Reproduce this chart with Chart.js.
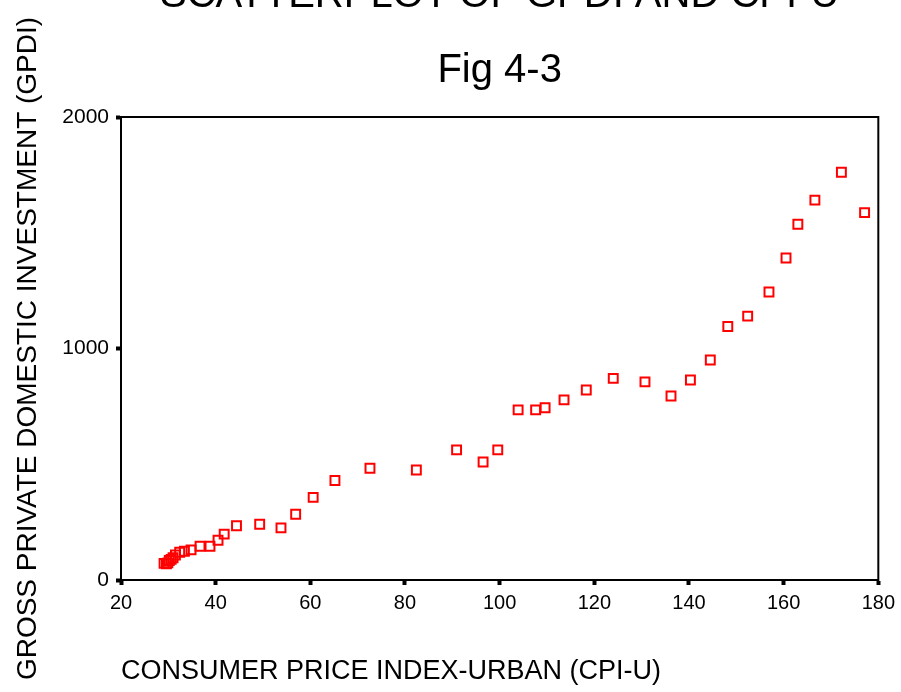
<!DOCTYPE html>
<html>
<head>
<meta charset="utf-8">
<script src="https://cdn.jsdelivr.net/npm/chart.js@4"></script>
<style>
  html, body { margin: 0; padding: 0; background: #fff; overflow: hidden; }
  #wrap { position: absolute; left: 0; top: -42px; width: 901px; height: 734px; }
</style>
</head>
<body>
<div id="wrap"><canvas id="chart"></canvas></div>
<script>
const cpiU = [29.1, 29.6, 29.9, 30.2, 30.6, 31.0, 31.5, 32.4, 33.4, 34.8,
              36.7, 38.8, 40.5, 41.8, 44.4, 49.3, 53.8, 56.9, 60.6, 65.2,
              72.6, 82.4, 90.9, 96.5, 99.6, 103.9, 107.6, 109.6, 113.6, 118.3,
              124.0, 130.7, 136.2, 140.3, 144.5, 148.2, 152.4, 156.9, 160.5, 163.0,
              166.6, 172.2, 177.1];
const gpdi = [72, 70, 74, 84, 89, 96, 108, 120, 124, 130,
              146, 146, 172, 198, 234, 241, 225, 284, 357, 430,
              483, 475, 562, 510, 562, 735, 735, 744, 778, 821,
              871, 856, 795, 864, 950, 1095, 1140, 1244, 1391, 1537,
              1641, 1761, 1587];

const xTicks = [20, 40, 60, 80, 100, 120, 140, 160, 180];
const yTicks = [0, 1000, 2000];

const points = cpiU.map((x, i) => ({ x: x, y: gpdi[i] }));

Chart.defaults.font.family = "'Liberation Sans', Arial, sans-serif";
Chart.defaults.color = '#000';

// frame around the plot area
const frame = {
  id: 'frame',
  afterDatasetsDraw(chart) {
    const a = chart.chartArea;
    const ctx = chart.ctx;
    ctx.save();
    ctx.strokeStyle = '#000';
    ctx.lineWidth = 2;
    ctx.strokeRect(a.left, a.top, a.right - a.left, a.bottom - a.top);
    ctx.restore();
  }
};

new Chart(document.getElementById('chart'), {
  type: 'scatter',
  data: {
    datasets: [{
      data: points,
      pointStyle: 'rect',
      pointRadius: 6.3,
      pointHoverRadius: 6.3,
      borderColor: '#ff0000',
      backgroundColor: 'rgba(0,0,0,0)',
      borderWidth: 2
    }]
  },
  options: {
    responsive: true,
    maintainAspectRatio: false,
    animation: false,
    layout: { padding: { left: 0, right: 21, top: 0, bottom: 0 } },
    plugins: {
      legend: { display: false },
      tooltip: { enabled: false },
      title: {
        display: true,
        fullSize: false,
        text: ['SCATTERPLOT OF GPDI AND CPI-U', 'Fig 4-3'],
        color: '#000',
        font: { size: 40, weight: 'normal', lineHeight: 1.875 },
        padding: { top: 0, bottom: 9 }
      }
    },
    scales: {
      x: {
        type: 'linear',
        min: xTicks[0],
        max: xTicks[xTicks.length - 1],
        afterBuildTicks: s => { s.ticks = xTicks.map(v => ({ value: v })); },
        afterFit: s => { s.height = 112; },
        border: { display: true, color: '#000', width: 2 },
        grid: { drawOnChartArea: false, drawTicks: true, tickLength: 5, tickWidth: 4, tickColor: '#000' },
        ticks: { font: { size: 20 }, padding: 6, maxRotation: 0, color: '#000', callback: v => String(v) },
        title: {
          display: true,
          text: 'CONSUMER PRICE INDEX-URBAN (CPI-U)',
          align: 'start',
          color: '#000',
          font: { size: 27 },
          padding: { top: 0, bottom: 4 }
        }
      },
      y: {
        type: 'linear',
        min: yTicks[0],
        max: yTicks[yTicks.length - 1],
        afterBuildTicks: s => { s.ticks = yTicks.map(v => ({ value: v })); },
        afterFit: s => { s.width = 121; },
        border: { display: true, color: '#000', width: 2 },
        grid: { drawOnChartArea: false, drawTicks: true, tickLength: 5, tickWidth: 4, tickColor: '#000' },
        ticks: { font: { size: 21 }, padding: 7, color: '#000', callback: v => String(v) },
        title: {
          display: true,
          text: 'GROSS PRIVATE DOMESTIC INVESTMENT (GPDI)',
          color: '#000',
          font: { size: 28 },
          padding: { top: 11, bottom: 0 }
        }
      }
    }
  },
  plugins: [frame]
});
</script>
</body>
</html>
